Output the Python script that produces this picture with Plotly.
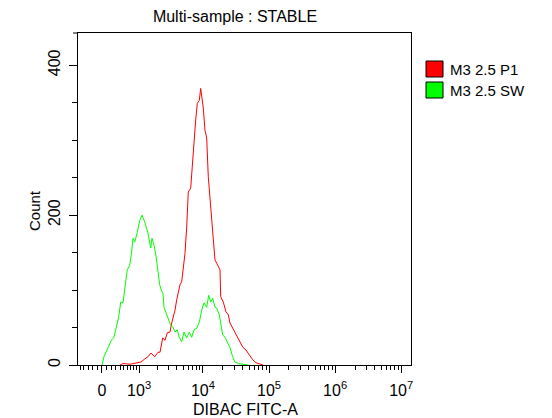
import numpy as np
import plotly.graph_objects as go

# ---------------- data ----------------
# Fluorescence intensity (DIBAC FITC-A) and event counts per bin
p1_intensity = [397, 474, 675, 842, 1078, 1246, 1413, 1581, 1813, 2044, 2198, 2422,
                2630, 2855, 3142, 3337, 3531, 3750, 3982, 4212, 4472, 4747, 5020,
                5145, 5329, 5657, 5983, 6507, 6882, 7303, 7749, 8195, 8788, 9226,
                9657, 10105, 10722, 11378, 12031, 12766, 13547, 14324, 15200, 16127,
                18093, 18537, 20305, 22297, 24159, 25641, 28168, 31607, 35456, 39915,
                44772, 50233, 56548, 63445, 72927, 80974]
p1_count = [0, 2, 1, 2, 4, 8, 11, 16, 11, 17, 17, 36,
            33, 43, 44, 56, 64, 73, 87, 96, 107, 111, 127,
            136, 149, 184, 231, 236, 267, 287, 327, 349, 353, 369,
            353, 343, 313, 303, 251, 220, 200, 163, 140, 136,
            127, 91, 84, 71, 67, 56, 49, 40, 33, 24,
            20, 13, 7, 3, 1, 0]

sw_intensity = [0, 41, 125, 196, 255, 308, 365, 414, 474, 536, 593, 666, 716, 773,
                832, 928, 1023, 1121, 1246, 1413, 1564, 1641, 1767, 1922, 2044,
                2174, 2303, 2448, 2538, 2726, 2958, 3221, 3457, 3750, 4067, 4363,
                4747, 5145, 5657, 6196, 6738, 7303, 8026, 8788, 9557, 10355, 11378,
                12200, 13081, 14027, 15200, 16127, 17660, 18733, 19883, 21538,
                23340, 25641, 28168, 30522, 34240, 43248, 48003]
sw_count = [0, 11, 23, 33, 37, 49, 64, 84, 83, 107, 127, 133, 147, 169,
            164, 177, 193, 200, 191, 176, 156, 169, 160, 143, 124,
            107, 100, 95, 77, 69, 60, 53, 51, 44, 47, 37,
            31, 44, 36, 44, 37, 47, 49, 57, 73, 83, 77,
            93, 84, 89, 77, 76, 67, 53, 40, 37,
            31, 23, 11, 4, 2, 1, 0]

series_names = ["M3 2.5 P1", "M3 2.5 SW"]
series_colors = ["#ff0000", "#00ff00"]

x_major_values = [0, 1e3, 1e4, 1e5, 1e6, 1e7]
x_major_labels = ["0", "10<sup>3</sup>", "10<sup>4</sup>", "10<sup>5</sup>",
                  "10<sup>6</sup>", "10<sup>7</sup>"]
x_minor_values = ([-v for v in (100, 200, 300, 400, 500, 600)]
                  + [100, 200, 300, 400, 500, 600, 700, 800, 900]
                  + [m * 10 ** e for e in (3, 4, 5, 6) for m in range(2, 10)])
y_major_values = [0, 200, 400]

title_text = "Multi-sample : STABLE"
x_title = "DIBAC FITC-A"
y_title = "Count"

# ---------------- biexponential-like display scale ----------------
COFACTOR = 593.0


def display(v):
    return np.arcsinh(np.asarray(v, dtype=float) / COFACTOR)


FONT = "Liberation Sans, Arial, sans-serif"
W, H = 552, 418
L, R, T, B = 78, 141, 33, 53

fig = go.Figure()
for name, color, xs, ys in [(series_names[0], series_colors[0], p1_intensity, p1_count),
                            (series_names[1], series_colors[1], sw_intensity, sw_count)]:
    fig.add_trace(go.Scatter(x=display(xs), y=ys, mode="lines", name=name,
                             line=dict(color=color, width=1), showlegend=False,
                             hoverinfo="skip"))

axis_common = dict(showline=True, linecolor="black", linewidth=1, mirror=True,
                   showgrid=False, zeroline=False, ticks="outside",
                   tickcolor="black", tickwidth=1,
                   tickfont=dict(family=FONT, size=16, color="black"))

fig.update_layout(
    width=W, height=H,
    margin=dict(l=L, r=R, t=T, b=B),
    paper_bgcolor="white", plot_bgcolor="white",
    font=dict(family=FONT, size=15, color="black"),
    xaxis=dict(range=[-0.836, 10.767], tickmode="array",
               tickvals=display(x_major_values).tolist(), ticktext=x_major_labels,
               ticklen=7, ticklabelstandoff=4,
               minor=dict(tickmode="array", tickvals=display(x_minor_values).tolist(),
                          ticklen=4, ticks="outside", tickcolor="black", tickwidth=1),
               **axis_common),
    yaxis=dict(range=[0, 443], tickmode="array", tickvals=y_major_values,
               ticklen=8, tickangle=-90, ticklabelstandoff=3,
               minor=dict(dtick=50, ticklen=5, ticks="outside", tickcolor="black",
                          tickwidth=1),
               **axis_common),
    title=dict(text=title_text, x=235 / W, xref="container",
               xanchor="center", y=1 - 16 / H, yanchor="middle",
               font=dict(family=FONT, size=16, color="black")),
)

# axis titles
fig.add_annotation(text=x_title, xref="paper", yref="paper",
                   x=(245 - L) / (W - L - R), y=-(410 - (H - B)) / (H - T - B),
                   xanchor="center", yanchor="middle", showarrow=False,
                   font=dict(family=FONT, size=16, color="black"))
fig.add_annotation(text=y_title, xref="paper", yref="paper",
                   x=-(L - 34) / (W - L - R), y=((H - B) - 211) / (H - T - B),
                   xanchor="center", yanchor="middle", showarrow=False, textangle=-90,
                   font=dict(family=FONT, size=15, color="black"))

# small cap tick at top-left of frame
fig.add_shape(type="line", xref="paper", yref="paper", xsizemode="pixel", xanchor=0,
              x0=-5, x1=0, y0=1, y1=1, line=dict(color="black", width=1))

# legend (filled boxes with black outline)
pw, ph = W - L - R, H - T - B
for i, (name, color) in enumerate(zip(series_names, series_colors)):
    top = 61 + i * 21
    fig.add_shape(type="rect", xref="paper", yref="paper",
                  x0=(426 - L) / pw, x1=(443 - L) / pw,
                  y0=((H - B) - (top + 16)) / ph, y1=((H - B) - top) / ph,
                  fillcolor=color, line=dict(color="black", width=1))
    fig.add_annotation(text=name, xref="paper", yref="paper",
                       x=(448 - L) / pw, y=((H - B) - (top + 8.5)) / ph,
                       xanchor="left", yanchor="middle", showarrow=False,
                       font=dict(family=FONT, size=15, color="black"))

fig.write_html("out.html",
               config={"displayModeBar": False},
               post_script="document.body.style.margin='0px';"
                           "document.body.style.overflow='hidden';")
